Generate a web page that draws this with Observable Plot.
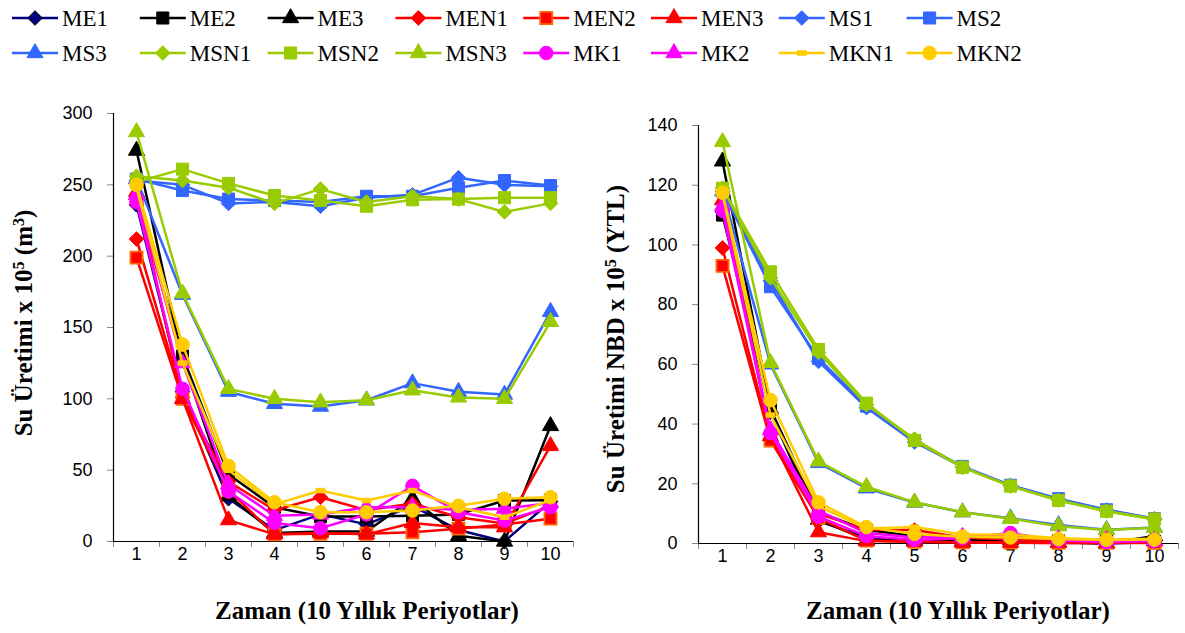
<!DOCTYPE html>
<html><head><meta charset="utf-8">
<script src="https://cdn.jsdelivr.net/npm/d3@7"></script>
<script src="https://cdn.jsdelivr.net/npm/@observablehq/plot@0.6"></script>
<style>
body{margin:0;background:#fff;width:1185px;height:633px;position:relative;overflow:hidden}
#legend{position:absolute;left:0;top:0}
#left{position:absolute;left:0;top:95px}
#right{position:absolute;left:590px;top:95px}
.serif{font-family:"Liberation Serif","DejaVu Serif",serif !important}
</style></head><body>
<div id="legend"></div><div id="left"></div><div id="right"></div>
<script>
// ---- categories ----
const periods = [1, 2, 3, 4, 5, 6, 7, 8, 9, 10];
const seriesNames = ["ME1","ME2","ME3","MEN1","MEN2","MEN3","MS1","MS2","MS3","MSN1","MSN2","MSN3","MK1","MK2","MKN1","MKN2"];
const lineColors   = ["#000080","#000000","#000000","#FF0000","#FF0000","#FF0000","#3366FF","#3366FF","#3366FF","#99CC00","#99CC00","#99CC00","#FF00FF","#FF00FF","#FFCC00","#FFCC00"];
const markerFills  = ["#000080","#000000","#000000","#FF0000","#FF0000","#FF0000","#3366FF","#3366FF","#3366FF","#99CC00","#99CC00","#99CC00","#FF00FF","#FF00FF","#FFCC00","#FFCC00"];
const markerStrokes= ["#000000","#000000","#000000","#FF0000","#FF6600","#FF0000","#3366FF","#3366FF","#3366FF","#99CC00","#99CC00","#99CC00","#FF00FF","#FF00FF","#FFCC00","#FFCC00"];
const markerShapes = ["diamond","square","triangle","diamond","square","triangle","diamond","square","triangle","diamond","square","triangle","circle","triangle","dash","circle"];

// ---- left chart: Su Üretimi x 10^5 (m3) ----
const volME1  = [236, 105, 30, 8, 19, 12, 25, 8, 0, 28];
const volME2  = [240, 130, 47, 24, 17.5, 17.5, 18, 19, 28.7, 29];
const volME3  = [274, 128, 32, 6, 7, 7, 30, 4, 0, 81];
const volMEN1 = [212, 101, 42, 22, 31, 22, 26.6, 17, 12.6, 25];
const volMEN2 = [199, 100, 36, 5, 5.4, 5.4, 6.5, 9, 12, 16];
const volMEN3 = [245, 100, 15, 5, 6, 5, 13, 10, 10, 67];
const volMS1  = [253, 250, 237, 238, 235, 241, 243, 255, 250, 249];
const volMS2  = [254, 246, 240, 239, 238, 242, 242, 248, 253, 249.5];
const volMS3  = [254, 173, 105, 96.5, 94.6, 99, 111, 105, 103, 161];
const volMSN1 = [256, 253, 248, 237, 247, 238, 242, 240, 231, 237];
const volMSN2 = [252, 261, 251, 242.5, 239, 235, 239.5, 240, 241, 241];
const volMSN3 = [287, 174, 107, 100, 97.6, 99, 106, 101, 100, 154];
const volMK1  = [238, 107, 35, 13, 9.3, 19, 39, 20.5, 14.7, 24];
const volMK2  = [243, 125, 40, 18, 19, 24, 24, 22, 23, 27];
const volMKN1 = [248, 125, 50, 26, 35.7, 28.7, 35.7, 24, 17, 29];
const volMKN2 = [250, 138, 53, 27.5, 20.5, 20.5, 21.7, 25, 30, 31];

// ---- right chart: Su Üretimi NBD x 10^5 (YTL) ----
const npvME1  = [111, 44, 7.5, 2, 1.2, 0.8, 0.8, 0.4, 0, 0.5];
const npvME2  = [110, 45, 10.5, 4.5, 2.5, 1.5, 1.0, 0.9, 0.9, 0.8];
const npvME3  = [128, 45, 8, 1.2, 1.0, 0.8, 1.2, 0.4, 0, 2.5];
const npvMEN1 = [99, 35, 10, 4.5, 4.5, 2, 1.3, 0.7, 0.6, 0.6];
const npvMEN2 = [93, 34.5, 8.5, 1.0, 0.6, 0.4, 0.3, 0.2, 0.2, 0.2];
const npvMEN3 = [115, 36, 3.8, 0.8, 0.6, 0.3, 0.3, 0.2, 0.2, 0.7];
const npvMS1  = [118, 88, 61, 45.5, 34, 25.6, 19.4, 14.8, 11.2, 8.3];
const npvMS2  = [118, 86, 62, 46, 34.5, 25.8, 19.5, 15, 11.3, 8.3];
const npvMS3  = [118, 60, 27, 18.5, 13.7, 10.5, 8.5, 6.2, 4.6, 5.4];
const npvMSN1 = [119, 89, 64, 46.5, 35, 25.5, 19.2, 14.5, 10.8, 8];
const npvMSN2 = [119, 91, 65, 47, 34.5, 25.5, 19.2, 14.4, 10.8, 8.2];
const npvMSN3 = [134.5, 60.5, 27.5, 19, 13.8, 10.5, 8.3, 5.8, 4.5, 5.3];
const npvMK1  = [111.5, 37, 9, 2.5, 1.2, 1.8, 3.5, 1.0, 0.5, 0.8];
const npvMK2  = [113, 38, 11, 3.5, 2, 2.3, 2.5, 1.5, 1.2, 1.0];
const npvMKN1 = [117, 43, 12.5, 5, 5.5, 3, 3, 1.8, 1.3, 1.6];
const npvMKN2 = [117.5, 48, 13.8, 5.5, 3.2, 2.3, 2, 1.5, 1.2, 1.3];

// ---- tick labels ----
const leftTicks = [0, 50, 100, 150, 200, 250, 300];
const rightTicks = [0, 20, 40, 60, 80, 100, 120, 140];
const xTitle = "Zaman (10 Yıllık Periyotlar)";

const volumeSeries = [volME1,volME2,volME3,volMEN1,volMEN2,volMEN3,volMS1,volMS2,volMS3,volMSN1,volMSN2,volMSN3,volMK1,volMK2,volMKN1,volMKN2];
const npvSeries = [npvME1,npvME2,npvME3,npvMEN1,npvMEN2,npvMEN3,npvMS1,npvMS2,npvMS3,npvMSN1,npvMSN2,npvMSN3,npvMK1,npvMK2,npvMKN1,npvMKN2];

const SERIF = "Liberation Serif";
const dashSymbol = { draw(ctx, size) { const w = Math.sqrt(size) * 0.85, h = w * 0.5; ctx.rect(-w/2, -h/2, w, h); } };
const symbolMap = { diamond: "diamond2", square: "square", triangle: "triangle", circle: "circle", dash: dashSymbol };
const radiusMap = { diamond: 6.6, square: 6.8, triangle: 6.0, circle: 6.8, dash: 6 };

function makeChart(seriesValues, ticks, opts) {
  const rows = seriesNames.flatMap((s, i) => periods.map((p, j) => ({ series: s, idx: i, period: p, value: seriesValues[i][j] })));
  const marks = [];
  seriesNames.forEach((s, i) => {
    const d = rows.filter(r => r.idx === i);
    marks.push(Plot.line(d, { x: "period", y: "value", stroke: lineColors[i], strokeWidth: 2.5 }));
    marks.push(Plot.dot(d, { x: "period", y: "value", symbol: symbolMap[markerShapes[i]], r: radiusMap[markerShapes[i]],
      fill: markerFills[i], stroke: markerStrokes[i], strokeWidth: i === 4 ? 1.8 : 1 }));
  });
  const svg = Plot.plot({
    width: opts.width, height: 538,
    marginLeft: opts.ml, marginRight: opts.mr, marginTop: opts.mt, marginBottom: opts.mb,
    style: { fontFamily: "'Liberation Sans', Arial, sans-serif", fontSize: "18px", background: "white", overflow: "visible" },
    x: { type: "linear", domain: [0.5, 10.5], label: null },
    y: { domain: [0, ticks[ticks.length - 1]], label: null },
    marks: [
      Plot.axisY({ ticks: ticks, tickSize: 6, tickPadding: 15, stroke: "#888", tickFormat: d => String(d), label: null }),
      Plot.axisX({ ticks: d3.range(0.5, 11, 1), tickSize: 6, stroke: "#888", tickFormat: () => "", label: null }),
      Plot.axisX({ ticks: periods, tickSize: 0, tickPadding: 6, tickFormat: d => String(d), label: null }),
      Plot.ruleX([0.5], { stroke: "black", strokeWidth: 1.2 }),
      Plot.ruleY([0], { stroke: "black", strokeWidth: 1.2 }),
      ...marks
    ]
  });
  const s = d3.select(svg);
  const yt = s.append("text")
    .attr("class", "serif")
    .attr("transform", `translate(${opts.ytx},${opts.yty}) rotate(-90)`)
    .attr("text-anchor", "middle")
    .attr("font-family", SERIF)
    .attr("font-weight", "bold").attr("font-size", 25).attr("fill", "black");
  opts.ytitle.forEach(([t, sup]) => {
    const ts = yt.append("tspan").text(t);
    if (sup) ts.attr("baseline-shift", "super").attr("font-size", 16);
  });
  s.append("text")
    .attr("class", "serif")
    .attr("x", opts.xtx).attr("y", 524)
    .attr("text-anchor", "middle")
    .attr("font-family", SERIF)
    .attr("font-weight", "bold").attr("font-size", 25).attr("fill", "black")
    .text(xTitle);
  return svg;
}

document.getElementById("left").appendChild(makeChart(volumeSeries, leftTicks, {
  width: 590, ml: 113, mr: 17, mt: 18, mb: 92, ytx: 32, yty: 228, xtx: 367,
  ytitle: [["Su Üretimi x 10", false], ["5", true], [" (m", false], ["3", true], [")", false]]
}));
document.getElementById("right").appendChild(makeChart(npvSeries, rightTicks, {
  width: 595, ml: 108, mr: 7, mt: 30, mb: 90, ytx: 34, yty: 244, xtx: 368,
  ytitle: [["Su Üretimi NBD x 10", false], ["5", true], [" (YTL)", false]]
}));

// ---- legend ----
const lg = d3.select("#legend").append("svg").attr("width", 1185).attr("height", 95);
seriesNames.forEach((name, i) => {
  const col = i % 8, row = Math.floor(i / 8);
  const x0 = 12 + col * 127.8, y0 = row === 0 ? 18 : 53;
  const g = lg.append("g").attr("transform", `translate(${x0},${y0})`);
  g.append("line").attr("x1", 0).attr("x2", 46).attr("y1", 0).attr("y2", 0).attr("stroke", lineColors[i]).attr("stroke-width", 2.5);
  const shape = markerShapes[i];
  const r = radiusMap[shape];
  const sym = typeof symbolMap[shape] === "string"
    ? { diamond2: d3.symbolDiamond2, square: d3.symbolSquare, triangle: d3.symbolTriangle, circle: d3.symbolCircle }[symbolMap[shape]]
    : symbolMap[shape];
  g.append("path").attr("transform", "translate(23,0)").attr("d", d3.symbol(sym, Math.PI * r * r)())
    .attr("fill", markerFills[i]).attr("stroke", markerStrokes[i]).attr("stroke-width", i === 4 ? 1.8 : 1);
  g.append("text").attr("class", "serif").attr("x", 50).attr("y", 8).text(name)
    .attr("font-family", SERIF).attr("font-size", 23).attr("fill", "black");
});
</script>
</body></html>
